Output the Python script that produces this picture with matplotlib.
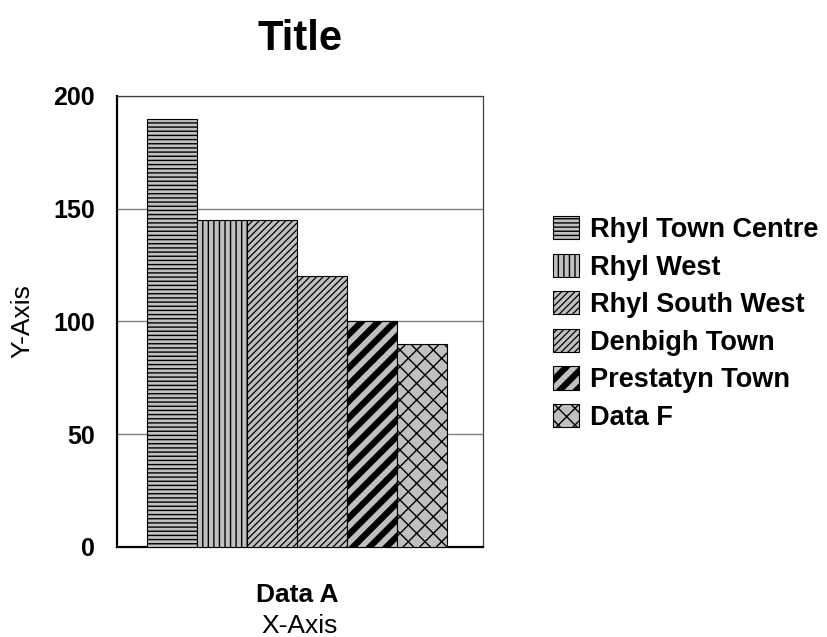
import matplotlib
matplotlib.use("Agg")
import matplotlib.pyplot as plt

plt.rcParams['font.family'] = ['Liberation Sans', 'DejaVu Sans']

categories = ['Data A']
series_names = ['Rhyl Town Centre', 'Rhyl West', 'Rhyl South West',
                'Denbigh Town', 'Prestatyn Town', 'Data F']
series_values = [190, 145, 145, 120, 100, 90]
y_ticks = [0, 50, 100, 150, 200]

hatches = ['----', '|||', '/////', '/////', '//', 'xx']
hatch_widths = [1.0, 1.0, 0.9, 0.9, 4.5, 1.0]

fig = plt.figure(figsize=(8.28, 6.37), dpi=100)
ax = fig.add_axes([0.1413, 0.1413, 0.442, 0.708])

n = len(series_names)
group_w = 0.8
bar_w = group_w / n
handles = []
for i, (name, val) in enumerate(zip(series_names, series_values)):
    x = -group_w / 2 + bar_w * (i + 0.5)
    with plt.rc_context({'hatch.linewidth': hatch_widths[i]}):
        bars = ax.bar(x, val, width=bar_w, color='#c0c0c0', edgecolor='black',
                      linewidth=0.8, hatch=hatches[i], label=name, zorder=3)
    for b in bars:
        if hasattr(b, 'set_hatch_linewidth'):
            b.set_hatch_linewidth(hatch_widths[i])
    handles.append(bars)

ax.set_xlim(-0.48, 0.496)
ax.set_ylim(0, 200)
ax.set_xticks([0])
ax.set_xticklabels(categories, fontsize=19, fontweight='bold')
ax.set_yticks(y_ticks)
ax.set_yticklabels([str(t) for t in y_ticks], fontsize=18, fontweight='bold')
ax.tick_params(axis='x', length=0, pad=26)
ax.tick_params(axis='y', length=0, pad=16)

ax.yaxis.grid(True, color='#808080', linewidth=1.0, zorder=0)
ax.set_axisbelow(True)

for side in ['left', 'bottom']:
    ax.spines[side].set_linewidth(1.6)
    ax.spines[side].set_color('black')
for side in ['top', 'right']:
    ax.spines[side].set_linewidth(0.9)
    ax.spines[side].set_color('#404040')

ax.set_title('Title', fontsize=30, fontweight='bold', pad=33)
ax.set_xlabel('X-Axis', fontsize=19, labelpad=5)
ax.set_ylabel('Y-Axis', fontsize=19, labelpad=13)

leg = fig.legend(handles=handles, labels=series_names, loc='upper left',
                 bbox_to_anchor=(553 / 828, 1 - 216 / 637), frameon=False,
                 prop={'size': 19.5, 'weight': 'bold'}, handlelength=0.95,
                 handleheight=0.95, handletextpad=0.4, labelspacing=0.39,
                 borderpad=0, borderaxespad=0)
# legend swatches are new patches, so carry the hatch widths over
for p, w in zip(leg.get_patches(), hatch_widths):
    if hasattr(p, 'set_hatch_linewidth'):
        p.set_hatch_linewidth(w)

fig.savefig('out.png', dpi=100)
